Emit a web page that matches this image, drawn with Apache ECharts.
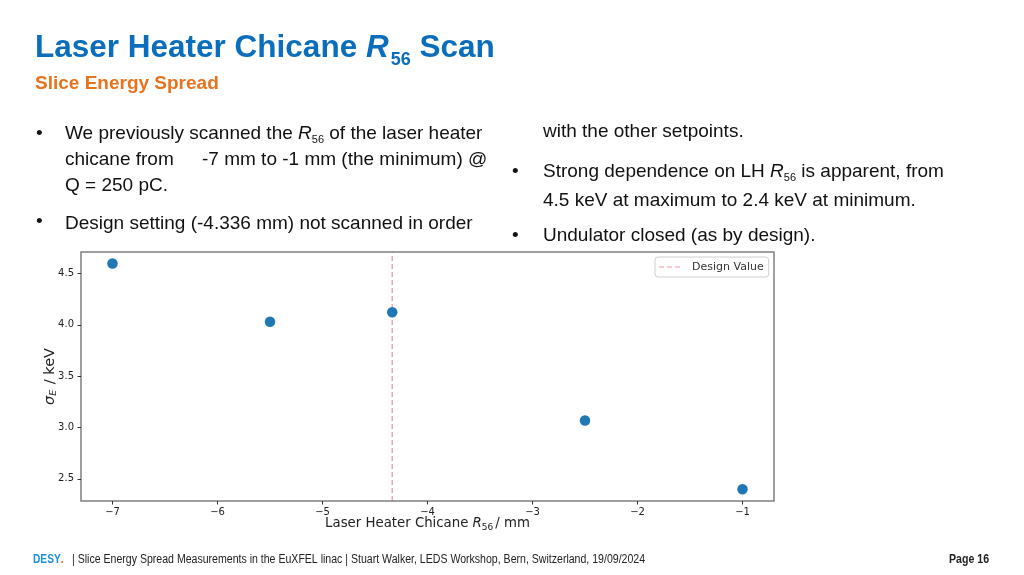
<!DOCTYPE html>
<html><head><meta charset="utf-8">
<script src="https://cdn.jsdelivr.net/npm/echarts@6/dist/echarts.min.js"></script>
<style>html,body{margin:0;padding:0;background:#fff}#c{width:1024px;height:575px}</style>
</head><body><div id="c"></div>
<script>
// ---- data ----
const r56Setpoints = [-7, -5.5, -4.336, -2.5, -1];
const sigmaE = [4.598, 4.03, 4.123, 3.068, 2.399];
const designValue = [-4.336];
const xTicks = [-7, -6, -5, -4, -3, -2, -1];
const yTicks = [2.5, 3.0, 3.5, 4.0, 4.5];
const xRange = [-7.3, -0.7];
const yRange = [2.284, 4.71];

// ---- styles ----
const SLIDE_FONT = "'Liberation Sans', Arial, sans-serif";
const PLOT_FONT = "'DejaVu Sans', sans-serif";
const TXT = '#111';
const BLUE = '#0a6ebd';
const ORANGE = '#e8731c';
const DESIGN_COLOR = 'rgba(220,70,90,0.55)';
const DASH_ICON = 'path://M0,0L0.01,0Z M0,14L0.01,14Z M0,6.4H5V7.6H0Z M8,6.4H13V7.6H8Z M16,6.4H21V7.6H16Z';

function fmtMinus(v) { return v < 0 ? '\u2212' + Math.abs(v) : String(v); }

const bulletRich = {
  n: { fontSize: 19, fontFamily: SLIDE_FONT, fill: TXT, lineHeight: 28 },
  i: { fontSize: 19, fontFamily: SLIDE_FONT, fill: TXT, fontStyle: 'italic', lineHeight: 28 },
  s: { fontSize: 11, fontFamily: SLIDE_FONT, fill: TXT, padding: [14, 0, 0, 0], lineHeight: 28 }
};
function slideText(x, y, text) {
  return { type: 'text', x: x, y: y, z: 0,
    style: { text: text, fontSize: 19, fontFamily: SLIDE_FONT, fill: TXT, verticalAlign: 'middle', align: 'left' } };
}
function richText(x, y, text, rich) {
  return { type: 'text', x: x, y: y, z: 0,
    style: { text: text, rich: rich, verticalAlign: 'middle', align: 'left', fill: TXT, fontSize: 19, fontFamily: SLIDE_FONT } };
}

const graphics = [
  richText(35, 48.3, '{t|Laser Heater Chicane }{ti|R}{ts|56}{t| Scan}', {
    t: { fontSize: 31.5, fontWeight: 'bold', fontFamily: SLIDE_FONT, fill: BLUE, lineHeight: 46 },
    ti: { fontSize: 31.5, fontWeight: 'bold', fontStyle: 'italic', fontFamily: SLIDE_FONT, fill: BLUE, lineHeight: 46 },
    ts: { fontSize: 18, fontWeight: 'bold', fontFamily: SLIDE_FONT, fill: BLUE, padding: [24, 0, 0, 2], lineHeight: 46 }
  }),
  { type: 'text', x: 35, y: 83.4, z: 0, style: { text: 'Slice Energy Spread', fontSize: 19, fontWeight: 'bold', fontFamily: SLIDE_FONT, fill: ORANGE, verticalAlign: 'middle' } },

  slideText(36, 133.4, '\u2022'),
  richText(65, 133.4, '{n|We previously scanned the }{i|R}{s|56}{n| of the laser heater}', bulletRich),
  slideText(65, 159.9, 'chicane from'),
  slideText(202, 159.9, '-7 mm to -1 mm (the minimum) @'),
  slideText(65, 185.4, 'Q = 250 pC.'),
  slideText(36, 221.4, '\u2022'),
  slideText(65, 223.4, 'Design setting (-4.336 mm) not scanned in order'),

  slideText(543, 131.4, 'with the other setpoints.'),
  slideText(512, 171.4, '\u2022'),
  richText(543, 171.4, '{n|Strong dependence on LH }{i|R}{s|56}{n| is apparent, from}', bulletRich),
  slideText(543, 200.4, '4.5 keV at maximum to 2.4 keV at minimum.'),
  slideText(512, 235.4, '\u2022'),
  slideText(543, 235.4, 'Undulator closed (as by design).'),

  // white backdrop of the embedded plot image (covers descenders of the last bullet)
  { type: 'rect', z: 1, shape: { x: 20, y: 245, width: 820, height: 295 }, style: { fill: '#fff' } },

  // footer (condensed)
  { type: 'text', x: 33, y: 559.8, z: 0, scaleX: 0.85, style: { text: '{b|DESY}{o|.}', rich: {
      b: { fontSize: 12, fontWeight: 'bold', fontFamily: SLIDE_FONT, fill: '#1a8fd6' },
      o: { fontSize: 12, fontWeight: 'bold', fontFamily: SLIDE_FONT, fill: ORANGE } }, verticalAlign: 'middle' } },
  { type: 'text', x: 72, y: 559.8, z: 0, scaleX: 0.88, style: { text: '| Slice Energy Spread Measurements in the EuXFEL linac | Stuart Walker, LEDS Workshop, Bern, Switzerland, 19/09/2024', fontSize: 12, fontFamily: SLIDE_FONT, fill: '#222', verticalAlign: 'middle' } },
  { type: 'text', x: 989, y: 559.8, z: 0, scaleX: 0.88, style: { text: 'Page 16', fontSize: 12, fontWeight: 'bold', fontFamily: SLIDE_FONT, fill: '#222', verticalAlign: 'middle', align: 'right' } }
];

const chart = echarts.init(document.getElementById('c'), null, { renderer: 'canvas' });
chart.setOption({
  backgroundColor: '#fff',
  animation: false,
  graphic: graphics,
  grid: { left: 81, right: 250, top: 252, bottom: 74, show: true, borderColor: '#808080', borderWidth: 1.5, backgroundColor: 'transparent', z: 3 },
  legend: {
    z: 6, left: 655, top: 257, orient: 'horizontal',
    padding: [3, 5, 3, 4], backgroundColor: '#fff', borderColor: '#d0d0d0', borderWidth: 1, borderRadius: 3,
    itemWidth: 21, itemHeight: 14, symbolKeepAspect: false,
    textStyle: { fontSize: 11, fontFamily: PLOT_FONT, color: '#333', padding: [0, 0, 0, 7] },
    data: [{ name: 'Design Value', icon: DASH_ICON, itemStyle: { color: DESIGN_COLOR, borderWidth: 0 } }]
  },
  xAxis: {
    type: 'value', min: xRange[0], max: xRange[1], z: 3,
    axisLine: { show: false },
    splitLine: { show: false },
    axisTick: { show: true, length: 3.5, customValues: xTicks, lineStyle: { color: '#333', width: 1 } },
    axisLabel: { customValues: xTicks, formatter: fmtMinus, fontSize: 10, fontFamily: PLOT_FONT, color: '#222', margin: 6 },
    name: '{a|Laser Heater Chicane }{i|R}{s|56}{a|/ mm}',
    nameLocation: 'middle', nameGap: 14, nameMoveOverlap: false,
    nameTextStyle: { rich: {
      a: { fontSize: 13.3, fontFamily: PLOT_FONT, color: '#222' },
      i: { fontSize: 13.3, fontFamily: PLOT_FONT, fontStyle: 'italic', color: '#222' },
      s: { fontSize: 9, fontFamily: PLOT_FONT, color: '#222', padding: [8, 2, 0, 0] } } }
  },
  yAxis: {
    type: 'value', min: yRange[0], max: yRange[1], z: 3,
    axisLine: { show: false },
    splitLine: { show: false },
    axisTick: { show: true, length: 3.5, customValues: yTicks, lineStyle: { color: '#333', width: 1 } },
    axisLabel: { customValues: yTicks, formatter: v => v.toFixed(1), fontSize: 10, fontFamily: PLOT_FONT, color: '#222', margin: 7 },
    name: '{i|\u03c3}{s|E}{a| / keV}',
    nameLocation: 'middle', nameGap: 22, nameRotate: 90, nameMoveOverlap: false,
    nameTextStyle: { rich: {
      a: { fontSize: 14.5, fontFamily: PLOT_FONT, color: '#222' },
      i: { fontSize: 14.5, fontFamily: PLOT_FONT, fontStyle: 'italic', color: '#222' },
      s: { fontSize: 9.5, fontFamily: PLOT_FONT, fontStyle: 'italic', color: '#222', padding: [8, 1, 0, 0] } } }
  },
  series: [
    {
      name: 'Design Value', type: 'line', z: 4, symbol: 'none', silent: true,
      data: [[designValue[0], yRange[0]], [designValue[0], yRange[1]]],
      lineStyle: { color: DESIGN_COLOR, width: 1.3, type: [5, 3] },
      itemStyle: { color: DESIGN_COLOR }
    },
    {
      name: 'Scan', type: 'scatter', z: 5, symbolSize: 10.5,
      data: r56Setpoints.map((x, i) => [x, sigmaE[i]]),
      itemStyle: { color: '#1f77b4', opacity: 1 }
    }
  ]
});
</script>
</body></html>
